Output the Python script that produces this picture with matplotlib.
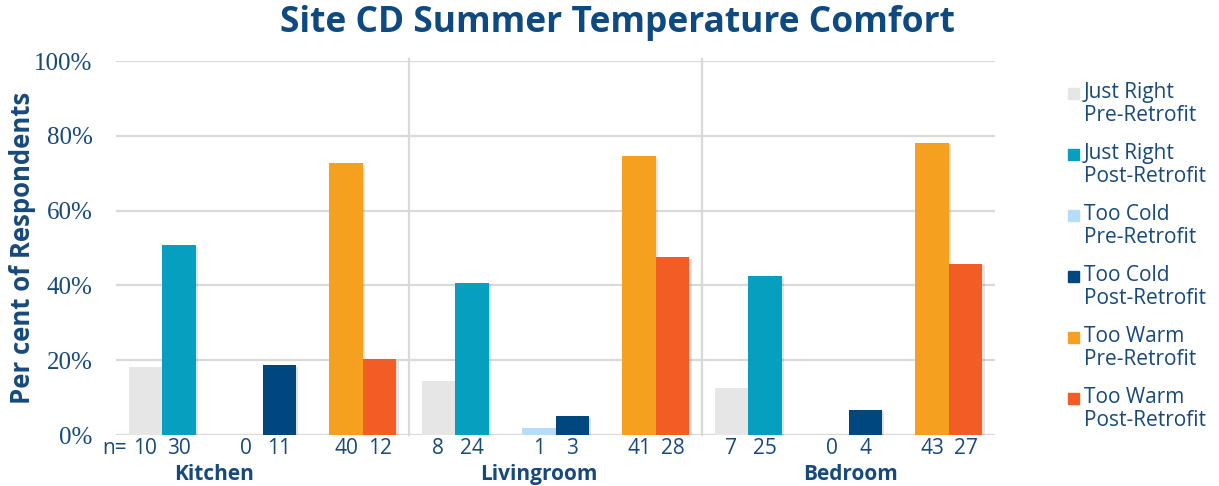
#!/usr/bin/env python3

import numpy as np
import matplotlib as mpl
mpl.use('Agg')
import matplotlib.pyplot as plt
from matplotlib.patches import Rectangle
from matplotlib import patheffects as pe

################################################################################

rooms = ['Kitchen', 'Livingroom', 'Bedroom']
series = ['Just Right\nPre-Retrofit', 'Just Right\nPost-Retrofit',
          'Too Cold\nPre-Retrofit', 'Too Cold\nPost-Retrofit',
          'Too Warm\nPre-Retrofit', 'Too Warm\nPost-Retrofit']
colors = ['#e6e6e6', '#069fbf', '#b5dcf8', '#00467f', '#f6a01f', '#f15d24']

# per cent of respondents, one row per room, columns follow `series`
pct_kitchen = [18.2, 50.8, 0.0, 18.6, 72.7, 20.3]
pct_living = [14.5, 40.7, 1.8, 5.1, 74.5, 47.5]
pct_bedroom = [12.7, 42.4, 0.0, 6.8, 78.2, 45.8]

# respondent counts printed under each bar
n_kitchen = [10, 30, 0, 11, 40, 12]
n_living = [8, 24, 1, 3, 41, 28]
n_bedroom = [7, 25, 0, 4, 43, 27]

yticks = [0, 20, 40, 60, 80, 100]

################################################################################

pct = [pct_kitchen, pct_living, pct_bedroom]
counts = [n_kitchen, n_living, n_bedroom]

txt = '#17497a'
sans = ['Open Sans', 'DejaVu Sans']

W, H = 1219, 486
fig = plt.figure(figsize=(W/100, H/100), dpi=100)
ax = fig.add_axes([116/W, 1 - 435/H, (995-116)/W, (435-61)/H])

group_w = 8.75
margin = 0.375

# bar centres: three pre/post pairs per room, one empty slot between pairs
xs = []
for g in range(len(rooms)):
    for j in range(3):
        for k in range(2):
            xs.append(g*group_w + margin + 3*j + 0.5 + k)
xs = np.array(xs).reshape(len(rooms), 6)

shadow = [pe.SimplePatchShadow(offset=(1.5, -1.2), alpha=0.12), pe.Normal()]
for g in range(len(rooms)):
    for s in range(6):
        if pct[g][s] > 0:
            b = ax.bar(xs[g, s], pct[g][s], width=1.0, color=colors[s], zorder=3)
            b[0].set_path_effects(shadow)
        ax.annotate(str(counts[g][s]), (xs[g, s], 0), xytext=(0, -2),
                    textcoords='offset points', ha='center', va='top',
                    fontsize=15, color=txt, family=sans)

ax.annotate('n=', (xs[0, 0] - 0.55, 0), xytext=(0, -2),
            textcoords='offset points', ha='right', va='top',
            fontsize=15, color=txt, family=sans)

# room names under each group
label_shift = [-1.45, -0.5, 0.05]
for g, room in enumerate(rooms):
    xc = g*group_w + group_w/2 + label_shift[g]
    ax.annotate(room, (xc, 0), xytext=(0, -21), textcoords='offset points',
                ha='center', va='top', fontsize=15, fontweight='bold',
                color=txt, family=sans)

# grid and separators
for y in yticks:
    ax.axhline(y, color='#d9d9d9', lw=1.6, zorder=1)
for g in range(1, len(rooms)):
    ax.plot([g*group_w]*2, [0, 100.5], color='#d9d9d9', lw=1.6, zorder=1,
            clip_on=False)

ax.set_xlim(0, len(rooms)*group_w)
ax.set_ylim(0, 100)
ax.set_xticks([])
ax.set_yticks(yticks)
ax.set_yticklabels([f'{v}%' for v in yticks], family='Liberation Serif',
                   fontsize=18, color=txt)
ax.tick_params(axis='y', length=0, pad=17)
for sp in ax.spines.values():
    sp.set_visible(False)

fig.text(23/W, 1 - 248/H, 'Per cent of Respondents', rotation=90,
         ha='center', va='center', fontsize=18.5, fontweight='bold',
         color=txt, family=sans)

fig.text(617/W, 1 - 23/H, 'Site CD Summer Temperature Comfort', ha='center',
         va='center', fontsize=25.5, fontweight='bold', color='#0e4a80',
         family=sans)

# legend drawn by hand so the swatch sits beside the first line
for i, (lab, c) in enumerate(zip(series, colors)):
    top = 88 + 61*i
    fig.add_artist(Rectangle((1068/W, 1 - (top + 11)/H), 11/W, 11/H,
                             transform=fig.transFigure, color=c))
    fig.text(1084/W, 1 - (top - 6)/H, lab, ha='left', va='top', fontsize=15,
             color=txt, family=sans, linespacing=1.15)

fig.savefig('out.png', dpi=100)
